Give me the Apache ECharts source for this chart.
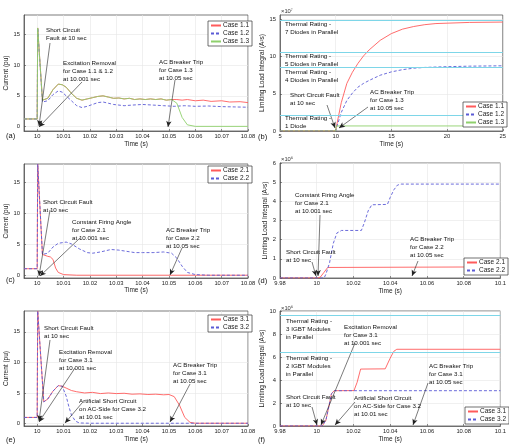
<!DOCTYPE html>
<html>
<head>
<meta charset="utf-8">
<script src="https://cdn.jsdelivr.net/npm/echarts@6/dist/echarts.min.js"></script>
<style>
html, body { margin: 0; padding: 0; background: #fff; }
#chart { width: 509px; height: 448px; }
</style>
</head>
<body>
<div id="chart"></div>
<script>
// ---- tick labels ----
const fastTicks = [10, 10.01, 10.02, 10.03, 10.04, 10.05, 10.06, 10.07, 10.08];
const slowTicks = [9.98, 10, 10.02, 10.04, 10.06, 10.08, 10.1];
const longTicks = [5, 10, 15, 20, 25];
const currentTicks = [0, 5, 10, 15];
const integralTicksB = [0, 5, 10, 15];
const integralTicksD = [0, 1, 2, 3, 4, 5, 6];
const integralTicksF = [0, 2, 4, 6, 8, 10];

// ---- (a) current, cases 1.x ----
const case11A = [[9.995, 1.25], [10, 1.25], [10.0002, 16], [10.002, 4.3], [10.004, 4.6], [10.006, 6.0], [10.008, 6.9], [10.0095, 6.8], [10.011, 6.4], [10.013, 5.4], [10.015, 4.6], [10.017, 4.3], [10.019, 4.5], [10.021, 4.7], [10.023, 4.9], [10.025, 5.0], [10.027, 4.8], [10.029, 4.6], [10.031, 4.65], [10.033, 4.5], [10.035, 4.6], [10.037, 4.4], [10.039, 4.5], [10.041, 4.4], [10.043, 4.5], [10.045, 4.4], [10.047, 4.5], [10.049, 4.3], [10.051, 4.4], [10.053, 4.4], [10.055, 4.3], [10.057, 4.4], [10.06, 4.2], [10.063, 4.3], [10.066, 4.1], [10.07, 4.2], [10.073, 4.0], [10.077, 4.05], [10.08, 3.9]];
const case12A = [[9.995, 1.25], [10, 1.25], [10.0002, 16], [10.002, 4.0], [10.004, 4.2], [10.006, 5.2], [10.008, 5.8], [10.0095, 5.6], [10.011, 5.0], [10.013, 4.2], [10.015, 3.4], [10.017, 3.1], [10.019, 3.3], [10.021, 3.6], [10.023, 3.9], [10.025, 4.0], [10.027, 3.8], [10.029, 3.6], [10.031, 3.5], [10.033, 3.4], [10.036, 3.5], [10.04, 3.6], [10.044, 3.5], [10.048, 3.4], [10.052, 3.3], [10.056, 3.4], [10.06, 3.3], [10.065, 3.35], [10.07, 3.25], [10.075, 3.2], [10.08, 3.15]];
const case13A = [[9.995, 1.25], [10, 1.25], [10.0002, 16], [10.002, 4.3], [10.004, 4.6], [10.006, 6.0], [10.008, 6.9], [10.0095, 6.8], [10.011, 6.4], [10.013, 5.4], [10.015, 4.6], [10.017, 4.3], [10.019, 4.5], [10.021, 4.7], [10.023, 4.9], [10.025, 5.0], [10.027, 4.8], [10.029, 4.6], [10.031, 4.65], [10.033, 4.5], [10.035, 4.6], [10.037, 4.4], [10.039, 4.5], [10.041, 4.4], [10.043, 4.5], [10.045, 4.4], [10.047, 4.5], [10.049, 4.3], [10.051, 4.4], [10.053, 3.8], [10.055, 1.5], [10.057, 0.3], [10.06, 0.05], [10.08, 0.05]];

// ---- (b) limiting load integral, cases 1.x (x10^7) ----
const case11B = [[5, 0], [10, 0], [10.05, 0.5], [10.5, 3.8], [11, 6.4], [11.5, 7.9], [12, 9.1], [12.5, 10.1], [13, 10.9], [14, 12.2], [15, 13.1], [16, 13.7], [17, 14.05], [18, 14.3], [19, 14.45], [20, 14.5], [22, 14.6], [25, 14.65]];
const case12B = [[5, 0], [10, 0], [10.05, 0.3], [10.5, 2.5], [11, 4.1], [11.5, 5.1], [12, 5.9], [12.5, 6.4], [13, 6.8], [14, 7.5], [15, 7.95], [16, 8.25], [17, 8.45], [18, 8.55], [20, 8.65], [22, 8.72], [25, 8.77]];
const case13B = [[5, 0], [10, 0], [10.05, 0.68], [25, 0.68]];
const ratingsB = [14.9, 10.57, 8.54, 2.17];

// ---- (c) current, cases 2.x ----
const case21C = [[9.995, 1.1], [10, 1.1], [10.0002, 18], [10.002, 3.4], [10.004, 3.1], [10.005, 3.0], [10.006, 2.6], [10.007, 1.2], [10.008, 0.5], [10.01, 0.15], [10.015, 0.05], [10.08, 0.05]];
const case22C = [[9.995, 1.1], [10, 1.1], [10.0002, 18], [10.002, 3.4], [10.004, 3.6], [10.006, 4.6], [10.008, 5.2], [10.011, 5.4], [10.013, 5.1], [10.016, 4.3], [10.019, 3.7], [10.021, 3.6], [10.024, 3.8], [10.028, 4.2], [10.031, 4.1], [10.034, 3.9], [10.037, 3.7], [10.04, 3.7], [10.044, 3.7], [10.048, 3.8], [10.051, 3.6], [10.053, 2.8], [10.055, 1.5], [10.057, 0.5], [10.06, 0.15], [10.065, 0.05], [10.08, 0.05]];

// ---- (d) limiting load integral, cases 2.x (x10^6) ----
const case21D = [[9.98, 0], [10.0005, 0], [10.002, 0.05], [10.004, 0.3], [10.006, 0.55], [10.007, 0.58], [10.1, 0.58]];
const case22D = [[9.98, 0], [10.004, 0], [10.005, 0.2], [10.007, 0.8], [10.009, 1.8], [10.011, 2.35], [10.0135, 2.48], [10.0243, 2.48], [10.026, 2.9], [10.028, 3.5], [10.03, 3.82], [10.0385, 3.84], [10.04, 4.2], [10.042, 4.6], [10.044, 4.85], [10.046, 4.9], [10.1, 4.9]];

// ---- (e) current, cases 3.x ----
const case31E = [[9.995, 1.0], [10, 1.0], [10.0002, 18.4], [10.0025, 3.55], [10.004, 4.0], [10.006, 5.3], [10.008, 6.2], [10.0095, 6.1], [10.011, 5.8], [10.013, 5.4], [10.015, 5.2], [10.018, 5.0], [10.021, 5.1], [10.024, 4.9], [10.027, 5.0], [10.03, 4.9], [10.033, 4.95], [10.036, 4.8], [10.039, 4.85], [10.042, 4.75], [10.045, 4.8], [10.048, 4.7], [10.05, 4.75], [10.052, 4.4], [10.054, 3.0], [10.056, 1.0], [10.058, 0.2], [10.06, 0.05], [10.08, 0.05]];
const case32E = [[9.995, 1.0], [10, 1.0], [10.0002, 18.4], [10.0025, 3.55], [10.004, 4.0], [10.006, 5.3], [10.008, 6.2], [10.0095, 6.1], [10.011, 4.5], [10.012, 2.8], [10.013, 1.4], [10.0145, 0.4], [10.016, 0.1], [10.02, 0.05], [10.08, 0.05]];

// ---- (f) limiting load integral, cases 3.x (x10^6) ----
const case31F = [[9.98, 0], [10.003, 0], [10.005, 0.5], [10.007, 2.0], [10.008, 2.8], [10.0095, 3.07], [10.0203, 3.08], [10.022, 3.8], [10.0239, 4.95], [10.0373, 4.97], [10.04, 5.9], [10.042, 6.5], [10.0436, 6.67], [10.1, 6.67]];
const case32F = [[9.98, 0], [10.003, 0], [10.005, 0.5], [10.007, 2.0], [10.008, 2.8], [10.0095, 3.07], [10.1, 3.07]];
const ratingsF = [9.6, 6.4];

const FONT = '"Liberation Sans", Arial, sans-serif';
const RED = '#ff5b5b';
const BLUE = '#5b5bd6';
const GREEN = '#8fd06c';
const CYAN = '#7ed6e8';

const GRIDS = [
    { left: 24, top: 15, width: 224, height: 116 },
    { left: 280, top: 15, width: 223, height: 116 },
    { left: 24, top: 164, width: 224, height: 114 },
    { left: 280, top: 163, width: 223, height: 115 },
    { left: 24, top: 311, width: 224, height: 115 },
    { left: 280, top: 311, width: 223, height: 115 }
];

const fmtNum = v => String(parseFloat(v.toFixed(3)));

function axis(gridIndex, min, max, ticks, name, nameGap, isY) {
    return {
        type: 'value',
        gridIndex,
        min,
        max,
        name,
        nameLocation: 'middle',
        nameGap,
        nameTextStyle: { fontSize: 6.5, fontFamily: FONT, color: '#222' },
        axisLine: { show: true, onZero: false, lineStyle: { color: '#444', width: 0.7 } },
        axisTick: { show: true, inside: true, length: 2, customValues: ticks, lineStyle: { color: '#444', width: 0.6 } },
        axisLabel: { customValues: ticks, formatter: fmtNum, fontSize: 5.8, fontFamily: FONT, color: '#222', margin: isY ? 4 : 2 },
        splitLine: { show: true, lineStyle: { color: '#e6e6e6', width: 0.6 } }
    };
}

function line(name, data, color, dashed, gridIndex, extra) {
    return Object.assign({
        name,
        type: 'line',
        data,
        xAxisIndex: gridIndex,
        yAxisIndex: gridIndex,
        symbol: 'none',
        silent: true,
        animation: false,
        lineStyle: { color, width: 0.9, type: dashed ? [3, 2] : 'solid' },
        itemStyle: { color }
    }, extra || {});
}

// annotation arrows (pixel coordinates) and horizontal rating lines
function marks(arrows, ratings) {
    const data = arrows.map(a => [
        { x: a[0], y: a[1], symbol: 'none' },
        { x: a[2], y: a[3], symbol: 'arrow' }
    ]);
    (ratings || []).forEach(v => data.push({ yAxis: v, symbol: 'none', lineStyle: { color: CYAN, width: 1, type: 'solid' } }));
    return {
        markLine: {
            silent: true,
            animation: false,
            symbol: 'none',
            symbolSize: [4, 6],
            label: { show: false },
            lineStyle: { color: '#222', width: 0.6, type: 'solid' },
            emphasis: { disabled: true },
            data
        }
    };
}

const arrowsA = [[50, 43, 39, 126], [82, 82, 39, 127], [175, 80, 168, 127]];
const arrowsB = [[327, 105, 335, 128], [368, 107, 339, 128]];
const arrowsC = [[50, 210, 39, 276], [80, 238, 40, 276], [182, 248, 170, 275]];
const arrowsD = [[320, 215, 318, 276], [312, 262, 316, 276], [418, 261, 412, 276]];
const arrowsE = [[50, 340, 39, 421], [75, 368, 39, 422], [190, 384, 170, 422], [82, 403, 65, 423]];
const arrowsF = [[355, 343, 321, 425], [312, 407, 317, 425], [355, 402, 335, 425], [428, 383, 413, 425]];

const notes = [
    [46, 30, 'Short Circuit\nFault at 10 sec'],
    [63, 63, 'Excitation Removal\nfor Case 1.1 & 1.2\nat 10.001 sec'],
    [159, 62, 'AC Breaker Trip\nfor Case 1.3\nat 10.05 sec'],
    [285, 24, 'Thermal Rating -\n7 Diodes in Parallel'],
    [285, 56, 'Thermal Rating -\n5 Diodes in Parallel'],
    [285, 72, 'Thermal Rating -\n4 Diodes in Parallel'],
    [290, 95, 'Short Circuit Fault\nat 10 sec'],
    [370, 92, 'AC Breaker Trip\nfor Case 1.3\nat 10.05 sec'],
    [285, 118, 'Thermal Rating -\n1 Diode'],
    [43, 202, 'Short Circuit Fault\nat 10 sec'],
    [72, 222, 'Constant Firing Angle\nfor Case 2.1\nat 10.001 sec'],
    [166, 230, 'AC Breaker Trip\nfor Case 2.2\nat 10.05 sec'],
    [295, 195, 'Constant Firing Angle\nfor Case 2.1\nat 10.001 sec'],
    [286, 252, 'Short Circuit Fault\nat 10 sec'],
    [410, 239, 'AC Breaker Trip\nfor Case 2.2\nat 10.05 sec'],
    [44, 328, 'Short Circuit Fault\nat 10 sec'],
    [59, 352, 'Excitation Removal\nfor Case 3.1\nat 10.001 sec'],
    [173, 365, 'AC Breaker Trip\nfor Case 3.1\nat 10.05 sec'],
    [79, 401, 'Artificial Short Circuit\non AC-Side for Case 3.2\nat 10.01 sec'],
    [286, 321, 'Thermal Rating -\n3 IGBT Modules\nin Parallel'],
    [286, 358, 'Thermal Rating -\n2 IGBT Modules\nin Parallel'],
    [344, 327, 'Excitation Removal\nfor Case 3.1\nat 10.001 sec'],
    [429, 366, 'AC Breaker Trip\nfor Case 3.1\nat 10.05 sec'],
    [286, 397, 'Short Circuit Fault\nat 10 sec'],
    [354, 398, 'Artificial Short Circuit\non AC-Side for Case 3.2\nat 10.01 sec']
];

const panelLabels = [[6, 136, '(a)'], [258, 137, '(b)'], [6, 280, '(c)'], [258, 281, '(d)'], [6, 440, '(e)'], [258, 440, '(f)']];
const exponents = [[281, 11, '×10⁷'], [281, 159, '×10⁶'], [281, 308, '×10⁶']];

const LINE_H = 8.3;
const graphics = [];
notes.forEach(([x, y, t]) => graphics.push({
    type: 'text', silent: true, z: 100,
    style: { x, y: y - LINE_H / 2, text: t, font: '6.2px ' + FONT, fill: '#111', lineHeight: LINE_H, verticalAlign: 'top' }
}));
panelLabels.forEach(([x, y, t]) => graphics.push({
    type: 'text', silent: true,
    style: { x, y, text: t, font: '7.5px ' + FONT, fill: '#111', verticalAlign: 'middle' }
}));
exponents.forEach(([x, y, t]) => graphics.push({
    type: 'text', silent: true,
    style: { x, y, text: t, font: '5.8px ' + FONT, fill: '#333', verticalAlign: 'middle' }
}));

function legend(left, top, names) {
    return {
        orient: 'vertical', left, top, z: 50,
        itemWidth: 10, itemHeight: 6, itemGap: 1,
        padding: [1, 3, 1, 2],
        borderColor: '#333', borderWidth: 0.7, borderRadius: 0,
        backgroundColor: '#fff',
        selectedMode: false,
        itemStyle: { opacity: 0 },
        textStyle: { fontSize: 6.5, fontFamily: FONT, color: '#222', padding: [0, 0, 0, -3] },
        data: names
    };
}

const option = {
    animation: false,
    textStyle: { fontFamily: FONT },
    grid: GRIDS.map(g => Object.assign({ show: true, borderColor: '#444', borderWidth: 0.7, backgroundColor: '#fff' }, g)),
    xAxis: [
        axis(0, 9.995, 10.08, fastTicks, 'Time (s)', 10, false),
        axis(1, 5, 25, longTicks, 'Time (s)', 10, false),
        axis(2, 9.995, 10.08, fastTicks, 'Time (s)', 9, false),
        axis(3, 9.98, 10.1, slowTicks, 'Time (s)', 10, false),
        axis(4, 9.995, 10.08, fastTicks, 'Time (s)', 10, false),
        axis(5, 9.98, 10.1, slowTicks, 'Time (s)', 10, false)
    ],
    yAxis: [
        axis(0, -0.7, 18.1, currentTicks, 'Current (pu)', 11, true),
        axis(1, 0, 15.6, integralTicksB, 'Limiting Load Integral (A²s)', 11, true),
        axis(2, -0.4, 18, currentTicks, 'Current (pu)', 11, true),
        axis(3, 0, 6, integralTicksD, 'Limiting Load Integral (A²s)', 9, true),
        axis(4, -0.4, 18.4, currentTicks, 'Current (pu)', 11, true),
        axis(5, 0, 10, integralTicksF, 'Limiting Load Integral (A²s)', 11, true)
    ],
    legend: [
        legend(208, 21, ['Case 1.1', 'Case 1.2', 'Case 1.3']),
        legend(463, 102, ['Case 1.1', 'Case 1.2', 'Case 1.3']),
        legend(208, 166, ['Case 2.1', 'Case 2.2']),
        legend(464, 258, ['Case 2.1', 'Case 2.2']),
        legend(208, 315, ['Case 3.1', 'Case 3.2']),
        legend(465, 407, ['Case 3.1', 'Case 3.2'])
    ],
    series: [
        line('Case 1.1', case11A, RED, false, 0, marks(arrowsA)),
        line('Case 1.2', case12A, BLUE, true, 0),
        line('Case 1.3', case13A, GREEN, false, 0),
        line('Case 1.1', case11B, RED, false, 1, marks(arrowsB, ratingsB)),
        line('Case 1.2', case12B, BLUE, true, 1),
        line('Case 1.3', case13B, GREEN, false, 1),
        line('Case 2.1', case21C, RED, false, 2, marks(arrowsC)),
        line('Case 2.2', case22C, BLUE, true, 2),
        line('Case 2.1', case21D, RED, false, 3, marks(arrowsD)),
        line('Case 2.2', case22D, BLUE, true, 3),
        line('Case 3.1', case31E, RED, false, 4, marks(arrowsE)),
        line('Case 3.2', case32E, BLUE, true, 4),
        line('Case 3.1', case31F, RED, false, 5, marks(arrowsF, ratingsF)),
        line('Case 3.2', case32F, BLUE, true, 5)
    ],
    graphic: graphics
};

const chart = echarts.init(document.getElementById('chart'));
chart.setOption(option);
</script>
</body>
</html>
